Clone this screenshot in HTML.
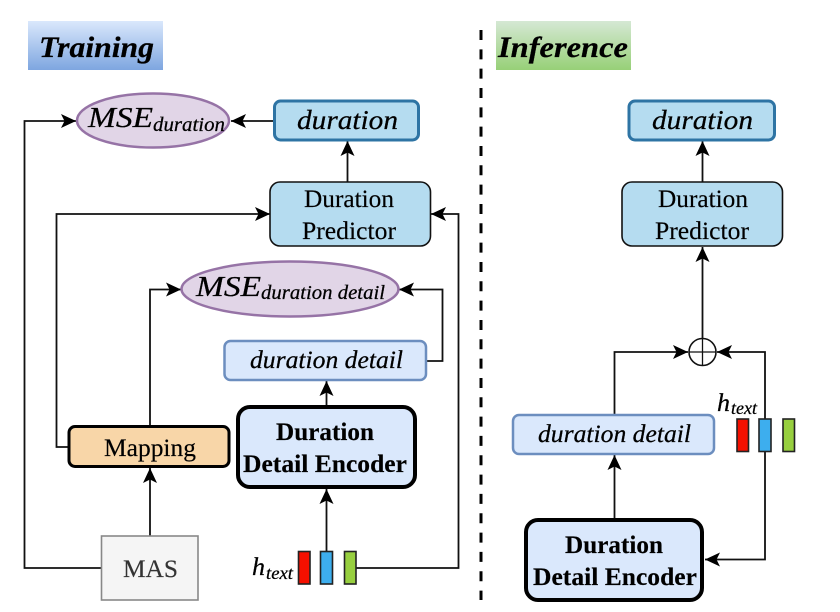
<!DOCTYPE html>
<html>
<head>
<meta charset="utf-8">
<style>
html,body{margin:0;padding:0;background:#fff;width:840px;height:612px;overflow:hidden}
svg{display:block}
text{font-family:"Liberation Serif",serif;fill:#000;stroke:#000;stroke-width:.15}
.m{font-style:italic;stroke-width:.25}
.b{font-weight:bold}
.l{fill:none;stroke:#111;stroke-width:1.8}
.a{marker-end:url(#ah)}
.bar{stroke:#222;stroke-width:1.6}
</style>
</head>
<body>
<svg width="840" height="612" viewBox="0 0 840 612" xmlns="http://www.w3.org/2000/svg">
<defs>
<linearGradient id="g1" x1="0" y1="0" x2="0" y2="1"><stop offset="0" stop-color="#dae8fc"/><stop offset="1" stop-color="#7ea6e0"/></linearGradient>
<linearGradient id="g2" x1="0" y1="0" x2="0" y2="1"><stop offset="0" stop-color="#d5e8d4"/><stop offset="1" stop-color="#97d077"/></linearGradient>
<marker id="ah" markerUnits="userSpaceOnUse" markerWidth="17" markerHeight="17" refX="15" refY="8" orient="auto" viewBox="0 0 17 16">
<path d="M15 8 L0 1 L3.500 8 L0 15 Z" fill="#000"/>
</marker>
</defs>

<!-- headers -->
<rect x="28" y="21" width="135" height="49" fill="url(#g1)"/>
<text x="39" y="57" class="m b" font-size="30" textLength="115" lengthAdjust="spacingAndGlyphs">Training</text>
<rect x="496" y="21" width="135" height="49" fill="url(#g2)"/>
<text x="498" y="57" class="m b" font-size="30" textLength="130" lengthAdjust="spacingAndGlyphs">Inference</text>

<!-- divider -->
<line x1="481" y1="30" x2="481" y2="600" stroke="#000" stroke-width="3" stroke-dasharray="10 9.33"/>

<!-- training connectors -->
<path class="l a" d="M101 568 H24.500 V121 H76"/>
<path class="l a" d="M68 447 H56.500 V214 H270"/>
<path class="l a" d="M150 426 V289.500 H181"/>
<path class="l a" d="M150 536 V468"/>
<path class="l a" d="M326.500 407 V381"/>
<path class="l a" d="M326.500 551 V489"/>
<path class="l a" d="M274 121 H231"/>
<path class="l a" d="M347.500 182 V141"/>
<path class="l a" d="M427 361 H442.500 V289.500 H399"/>
<path class="l a" d="M356 568 H458.500 V214 H431"/>

<!-- training nodes -->
<ellipse cx="153" cy="120.500" rx="76" ry="27" fill="#e1d5e7" stroke="#9673a6" stroke-width="2.500"/>
<text x="88" y="127" class="m" font-size="29" textLength="65" lengthAdjust="spacingAndGlyphs">MSE</text>
<text x="153" y="131" class="m" font-size="20" textLength="72" lengthAdjust="spacingAndGlyphs">duration</text>

<rect x="274.500" y="101" width="144" height="39" rx="6" fill="#b5dcf0" stroke="#2e74a4" stroke-width="3"/>
<text x="297" y="129" class="m" font-size="27" textLength="101" lengthAdjust="spacingAndGlyphs">duration</text>

<rect x="270" y="182" width="160.500" height="64" rx="10" fill="#b5dcf0" stroke="#111" stroke-width="1.600"/>
<text x="304" y="207" font-size="25" textLength="90" lengthAdjust="spacingAndGlyphs">Duration</text>
<text x="302" y="239" font-size="25" textLength="94" lengthAdjust="spacingAndGlyphs">Predictor</text>

<ellipse cx="290" cy="289" rx="108.500" ry="27.500" fill="#e1d5e7" stroke="#9673a6" stroke-width="2.500"/>
<text x="196" y="296" class="m" font-size="29" textLength="65" lengthAdjust="spacingAndGlyphs">MSE</text>
<text x="261" y="299" class="m" font-size="20" textLength="124" lengthAdjust="spacingAndGlyphs">duration detail</text>

<rect x="224.500" y="341" width="201.500" height="39" rx="6" fill="#dae8fc" stroke="#6c8ebf" stroke-width="2.500"/>
<text x="250" y="368" class="m" font-size="25" textLength="153" lengthAdjust="spacingAndGlyphs">duration detail</text>

<rect x="238" y="407" width="177" height="80" rx="12" fill="#dae8fc" stroke="#000" stroke-width="4"/>
<text x="276" y="440" class="b" font-size="25" textLength="98" lengthAdjust="spacingAndGlyphs">Duration</text>
<text x="243" y="472" class="b" font-size="25" textLength="164" lengthAdjust="spacingAndGlyphs">Detail Encoder</text>

<rect x="69" y="426.500" width="160" height="40" rx="6" fill="#f8d6a8" stroke="#000" stroke-width="3"/>
<text x="104" y="456" font-size="25" textLength="92" lengthAdjust="spacingAndGlyphs">Mapping</text>

<rect x="101.500" y="536" width="96.500" height="64" fill="#f5f5f5" stroke="#888" stroke-width="1.600"/>
<text x="123" y="577" font-size="25" textLength="55" lengthAdjust="spacingAndGlyphs" style="fill:#333;stroke:#333">MAS</text>

<text x="252" y="575" class="m" font-size="25" textLength="13" lengthAdjust="spacingAndGlyphs">h</text>
<text x="266" y="579" class="m" font-size="18" textLength="27" lengthAdjust="spacingAndGlyphs">text</text>
<rect class="bar" x="298.500" y="551.500" width="11.500" height="32.500" fill="#f51000"/>
<rect class="bar" x="320.500" y="551.500" width="12" height="32.500" fill="#3daeee"/>
<rect class="bar" x="344.500" y="551.500" width="11.500" height="32.500" fill="#97cf3f"/>

<!-- inference connectors -->
<path class="l a" d="M702.500 182 V141"/>
<path class="l a" d="M702.500 338 V247"/>
<path class="l a" d="M614.500 414 V352 H688"/>
<path class="l a" d="M765 419 V352 H717"/>
<path class="l a" d="M765 451 V559.500 H705"/>
<path class="l a" d="M614.500 519 V455"/>

<!-- inference nodes -->
<rect x="629" y="101" width="145.500" height="39" rx="6" fill="#b5dcf0" stroke="#2e74a4" stroke-width="3"/>
<text x="652" y="129" class="m" font-size="27" textLength="101" lengthAdjust="spacingAndGlyphs">duration</text>

<rect x="622" y="182" width="160.500" height="64" rx="10" fill="#b5dcf0" stroke="#111" stroke-width="1.600"/>
<text x="658" y="207" font-size="25" textLength="90" lengthAdjust="spacingAndGlyphs">Duration</text>
<text x="655" y="239" font-size="25" textLength="94" lengthAdjust="spacingAndGlyphs">Predictor</text>

<circle cx="702.500" cy="352" r="13.500" fill="#fff" stroke="#111" stroke-width="1.600"/>
<path d="M689 352 H716 M702.500 338.500 V365.500" stroke="#111" stroke-width="1.300" fill="none"/>

<rect x="513" y="415" width="201" height="39" rx="6" fill="#dae8fc" stroke="#6c8ebf" stroke-width="2.500"/>
<text x="538" y="442" class="m" font-size="25" textLength="153" lengthAdjust="spacingAndGlyphs">duration detail</text>

<rect x="526" y="520" width="176" height="80" rx="12" fill="#dae8fc" stroke="#000" stroke-width="4"/>
<text x="565" y="553" class="b" font-size="25" textLength="98" lengthAdjust="spacingAndGlyphs">Duration</text>
<text x="533" y="585" class="b" font-size="25" textLength="164" lengthAdjust="spacingAndGlyphs">Detail Encoder</text>

<text x="717" y="411" class="m" font-size="25" textLength="13" lengthAdjust="spacingAndGlyphs">h</text>
<text x="731" y="414" class="m" font-size="18" textLength="26" lengthAdjust="spacingAndGlyphs">text</text>
<rect class="bar" x="737" y="419" width="11.500" height="32.500" fill="#f51000"/>
<rect class="bar" x="759" y="419" width="12" height="32.500" fill="#3daeee"/>
<rect class="bar" x="783" y="419" width="11.500" height="32.500" fill="#97cf3f"/>
</svg>
</body>
</html>
